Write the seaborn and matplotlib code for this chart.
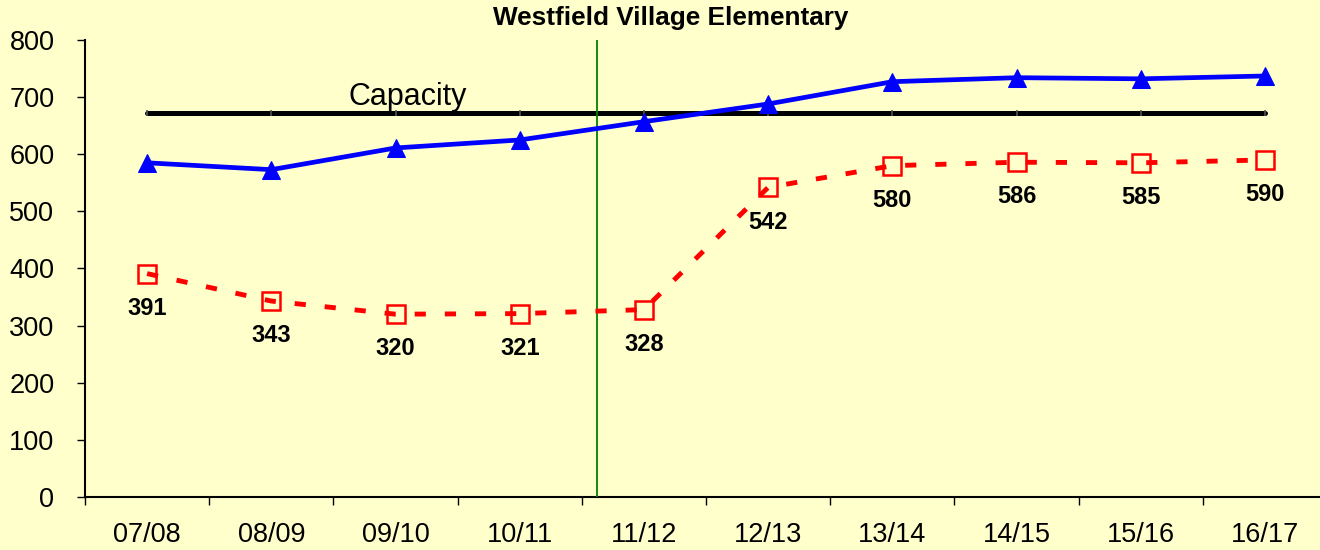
import matplotlib
matplotlib.use("Agg")
import matplotlib.pyplot as plt
import numpy as np
import pandas as pd
import seaborn as sns

years = ["07/08", "08/09", "09/10", "10/11", "11/12",
         "12/13", "13/14", "14/15", "15/16", "16/17"]
projected = [585, 573, 611, 625, 657, 688, 727, 734, 732, 737]
enrollment = [391, 343, 320, 321, 328, 542, 580, 586, 585, 590]
capacity = [672] * len(years)
divider_x = 3.62
title = "Westfield Village Elementary"

bg = "#FFFFCC"
sns.set_style("ticks")
plt.rcParams["font.family"] = ["Liberation Sans", "DejaVu Sans"]
plt.rcParams["text.color"] = "black"
plt.rcParams["xtick.color"] = "black"
plt.rcParams["ytick.color"] = "black"
plt.rcParams["xtick.labelcolor"] = "black"
plt.rcParams["ytick.labelcolor"] = "black"

df = pd.DataFrame({
    "pos": np.arange(len(years)),
    "year": years,
    "projected": projected,
    "enrollment": enrollment,
    "capacity": capacity,
})

fig = plt.figure(figsize=(13.2, 5.5), dpi=100, facecolor=bg)
ax = fig.add_axes([0.0644, 0.0964, 0.941, 0.8309])
ax.set_facecolor(bg)

sns.lineplot(data=df, x="pos", y="capacity", ax=ax, color="black", lw=3.6,
             marker="|", markersize=5, markeredgecolor="#555555",
             markeredgewidth=1.2, zorder=2)
sns.lineplot(data=df, x="pos", y="projected", ax=ax, color="#0000FF", lw=3.4,
             marker="^", markersize=13, markeredgecolor="#0000FF", zorder=4)
sns.lineplot(data=df, x="pos", y="enrollment", ax=ax, color="#FF0000", lw=3.5,
             dashes=False, zorder=5)
ax.lines[-1].set_dashes((2.3, 3.9))
ax.plot(df["pos"], df["enrollment"], ls="none", marker="s", markersize=12.5,
        markerfacecolor="none", markeredgecolor="#FF0000", mew=1.8, zorder=4)

ax.axvline(divider_x, color="#008000", lw=1.3, zorder=3)

for x, v in zip(df["pos"], enrollment):
    ax.annotate(str(v), (x, v), xytext=(0, -25), textcoords="offset points",
                ha="center", va="center", fontsize=17, fontweight="bold",
                color="black")

ax.text(2.1, 700, "Capacity", fontsize=22, ha="center", va="center",
        color="black")

ax.set_xlim(-0.5, len(years) - 0.5)
ax.set_ylim(0, 800)
ax.set_yticks(range(0, 801, 100))
ax.set_xticks(df["pos"])
ax.set_xticklabels(years)
ax.set_xticks(np.arange(-0.5, len(years), 1), minor=True)
ax.tick_params(axis="x", which="major", length=0, pad=18, labelsize=19.5)
ax.tick_params(axis="x", which="minor", length=6, width=1, color="black")
ax.tick_params(axis="y", length=6, width=1, labelsize=19.5, pad=16)
ax.set_xlabel("")
ax.set_ylabel("")
if ax.get_legend():
    ax.get_legend().remove()

for side in ("top", "right"):
    ax.spines[side].set_visible(False)
for side in ("left", "bottom"):
    ax.spines[side].set_linewidth(1.5)
    ax.spines[side].set_color("black")

fig.text(0.508, 0.967, title, ha="center", va="center",
         fontsize=18.8, fontweight="bold", color="black")

fig.savefig("out.png", dpi=100, facecolor=bg)
plt.close(fig)
